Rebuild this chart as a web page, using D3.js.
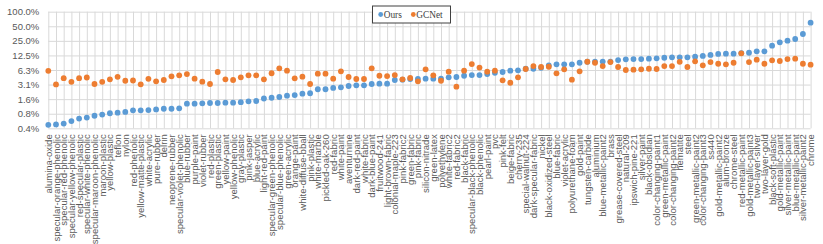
<!DOCTYPE html>
<html>
<head>
<meta charset="utf-8">
<script src="https://cdn.jsdelivr.net/npm/d3@7"></script>
<style>
  body { margin: 0; background: #fff; }
  svg { display: block; font-family: "Liberation Serif", "Times New Roman", serif; }
</style>
</head>
<body>
<div id="chart"></div>
<script>
// material names, sorted by our error
const categories = [
  "alumina-oxide", "specular-orange-phenolic", "specular-red-phenolic", "specular-yellow-phenolic",
  "red-specular-plastic", "specular-white-phenolic", "specular-maroon-phenolic", "maroon-plastic",
  "yellow-plastic", "teflon", "nylon", "red-phenolic", "yellow-matte-plastic", "white-acrylic",
  "pure-rubber", "delrin", "neoprene-rubber", "specular-violet-phenolic", "blue-rubber", "purple-paint",
  "violet-rubber", "red-plastic", "green-plastic", "yellow-paint", "yellow-phenolic", "gray-plastic",
  "pink-jasper", "blue-acrylic", "light-red-paint", "specular-green-phenolic", "specular-blue-phenolic",
  "green-acrylic", "orange-paint", "white-diffuse-bball", "pink-plastic", "white-marble",
  "pickled-oak-260", "red-fabric", "white-paint", "aventurnine", "dark-red-paint", "white-fabric",
  "dark-blue-paint", "fruitwood-241", "light-brown-fabric", "colonial-maple-223", "pink-fabric2",
  "green-fabric", "pink-fabric", "silicon-nitrade", "green-latex", "polyethylene", "white-fabric2",
  "red-fabric2", "black-fabric", "specular-black-phenolic", "black-phenolic", "pearl-paint", "pvc",
  "pink-felt", "beige-fabric", "cherry-235", "special-walnut-224", "dark-specular-fabric", "nickel",
  "black-oxidized-steel", "blue-fabric", "violet-acrylic", "polyurethane-foam", "gold-paint",
  "tungsten-carbide", "aluminium", "blue-metallic-paint2", "brass", "grease-covered-steel",
  "natural-209", "ipswich-pine-221", "silver-paint", "black-obsidian", "color-changing-paint1",
  "green-metallic-paint", "color-changing-paint2", "hematite", "steel", "green-metallic-paint2",
  "color-changing-paint3", "ss440", "gold-metallic-paint2", "alum-bronze", "chrome-steel",
  "red-metallic-paint", "gold-metallic-paint3", "two-layer-silver", "two-layer-gold",
  "black-soft-plastic", "gold-metallic-paint", "silver-metallic-paint", "blue-metallic-paint",
  "silver-metallic-paint2", "chrome"
];

// errors in percent
const ours = [
  0.46, 0.47, 0.49, 0.55, 0.62, 0.65, 0.71, 0.75, 0.80, 0.82,
  0.85, 0.92, 0.92, 0.93, 0.96, 0.99, 0.99, 1.01, 1.26, 1.26,
  1.28, 1.30, 1.30, 1.32, 1.32, 1.35, 1.41, 1.43, 1.61, 1.67,
  1.73, 1.84, 1.90, 2.03, 2.07, 2.50, 2.50, 2.66, 2.74, 2.92,
  3.02, 3.02, 3.21, 3.26, 3.26, 3.88, 3.94, 4.07, 4.07, 4.13,
  4.13, 4.13, 4.41, 4.48, 4.76, 4.92, 4.92, 5.16, 5.49, 5.68,
  6.04, 6.16, 6.64, 6.64, 6.96, 7.81, 8.19, 8.19, 8.19, 8.83,
  9.26, 9.26, 9.35, 9.35, 10.0, 10.4, 10.5, 10.5, 10.7, 10.9,
  11.2, 11.4, 11.4, 11.4, 11.8, 12.2, 12.8, 13.4, 13.6, 13.6,
  14.0, 14.2, 15.2, 15.2, 19.9, 23.3, 25.2, 27.3, 34.6, 59.2
];

const gcnet = [
  6.01, 3.14, 4.23, 3.56, 4.23, 4.37, 3.21, 3.56, 4.01, 4.52,
  3.75, 3.79, 3.16, 4.11, 3.65, 3.88, 4.63, 4.86, 5.16, 4.13,
  3.58, 3.21, 5.68, 4.01, 3.88, 4.41, 4.86, 4.86, 4.01, 5.36,
  6.77, 6.04, 4.21, 4.54, 3.21, 5.24, 5.24, 4.13, 5.87, 4.48,
  4.07, 4.07, 6.77, 4.76, 4.69, 4.92, 4.01, 4.27, 3.65, 6.45,
  4.86, 3.75, 5.76, 2.83, 6.04, 8.30, 7.03, 5.76, 6.04, 3.82,
  3.41, 4.41, 6.55, 7.55, 7.20, 7.30, 5.34, 6.45, 3.94, 5.87,
  9.26, 8.83, 7.55, 9.12, 7.20, 6.25, 6.34, 6.45, 6.64, 6.55,
  7.55, 7.55, 9.22, 7.20, 9.44, 7.81, 9.12, 8.42, 8.19, 8.83,
  13.8, 9.12, 10.2, 8.42, 9.90, 9.58, 10.5, 10.7, 8.42, 8.04
];

const yTicks = [0.390625, 0.78125, 1.5625, 3.125, 6.25, 12.5, 25, 50, 100];
const yTickLabels = ["0.4%", "0.8%", "1.6%", "3.1%", "6.3%", "12.5%", "25.0%", "50.0%", "100.0%"];

const series = [
  { name: "Ours", values: ours, color: "#5B9BD5" },
  { name: "GCNet", values: gcnet, color: "#ED7D31" }
];

const width = 823;
const height = 244;
const margin = { top: 11.7, right: 12.4, bottom: 115.7, left: 48.3 };
const grid = "#d9d9d9";
const textColor = "#595959";

const svg = d3.select("#chart").append("svg")
  .attr("width", width)
  .attr("height", height)
  .attr("viewBox", [0, 0, width, height]);

const x = d3.scalePoint()
  .domain(categories)
  .range([margin.left, width - margin.right]);

const y = d3.scaleLog()
  .base(2)
  .domain([yTicks[0], yTicks[yTicks.length - 1]])
  .range([height - margin.bottom, margin.top]);

// vertical gridlines + rotated category labels
const xAxis = svg.append("g")
  .attr("transform", `translate(0,${height - margin.bottom})`)
  .call(d3.axisBottom(x).tickSize(-(height - margin.top - margin.bottom)).tickSizeOuter(0));
xAxis.select(".domain").remove();
xAxis.selectAll(".tick line").attr("stroke", grid).attr("stroke-width", 1);
xAxis.selectAll(".tick text")
  .attr("transform", "rotate(-90)")
  .attr("x", -6)
  .attr("y", 0)
  .attr("dy", "0.32em")
  .attr("text-anchor", "end")
  .attr("fill", textColor)
  .attr("font-size", 9.5)
  .attr("font-family", null);

// horizontal gridlines + y labels
const yAxis = svg.append("g")
  .attr("transform", `translate(${margin.left},0)`)
  .call(d3.axisLeft(y)
    .tickValues(yTicks)
    .tickFormat((d, i) => yTickLabels[i])
    .tickSize(-(width - margin.left - margin.right))
    .tickPadding(9));
yAxis.select(".domain").remove();
yAxis.selectAll(".tick line").attr("stroke", grid).attr("stroke-width", 1);
yAxis.selectAll(".tick text")
  .attr("fill", textColor)
  .attr("font-size", 9.5)
  .attr("font-family", null);

// markers
series.forEach((s) => {
  svg.append("g")
    .attr("fill", s.color)
    .selectAll("circle")
    .data(s.values)
    .join("circle")
    .attr("cx", (d, i) => x(categories[i]))
    .attr("cy", (d) => y(d))
    .attr("r", 2.9);
});

// legend
const legend = svg.append("g").attr("transform", "translate(372.5,6)");
legend.append("rect")
  .attr("width", 78)
  .attr("height", 17)
  .attr("fill", "#fff")
  .attr("stroke", "#404040")
  .attr("stroke-width", 1);
const items = legend.selectAll("g")
  .data(series)
  .join("g")
  .attr("transform", (d, i) => `translate(${i === 0 ? 8.2 : 40.8},8.5)`);
items.append("circle").attr("r", 2.4).attr("fill", (d) => d.color);
items.append("text")
  .attr("x", 3)
  .attr("dy", "0.35em")
  .attr("font-size", 9.3)
  .attr("fill", "#404040")
  .text((d) => d.name);
</script>
</body>
</html>
